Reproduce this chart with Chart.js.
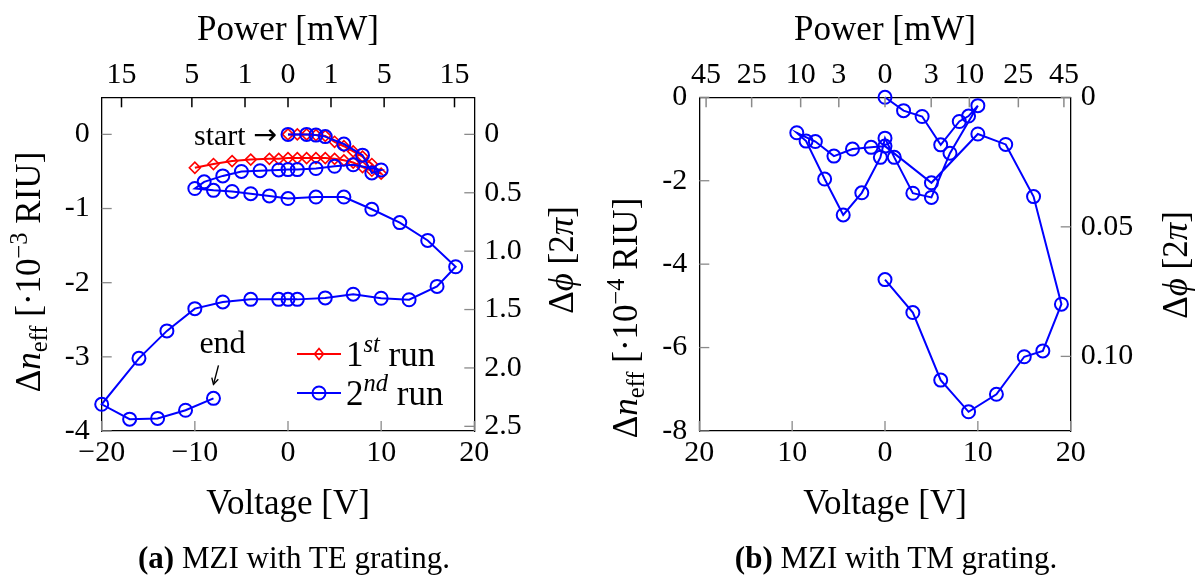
<!DOCTYPE html>
<html>
<head>
<meta charset="utf-8">
<script src="https://cdn.jsdelivr.net/npm/chart.js@4/dist/chart.umd.min.js"></script>
<style>
  html, body { margin: 0; padding: 0; background: #fff; }
  #wrap { position: relative; width: 1196px; height: 581px; overflow: hidden; }
  canvas { position: absolute; top: 0; }
  #teChart { left: 0; }
  #tmChart { left: 598px; }
  .cap { position: absolute; top: 540px; line-height: 36px; font-family: 'Liberation Serif', serif;
         font-size: 31px; color: #000; white-space: nowrap; transform: translateX(-50%); }
</style>
</head>
<body>
<div id="wrap">
  <canvas id="teChart" width="598" height="581"></canvas>
  <canvas id="tmChart" width="598" height="581"></canvas>
  <div class="cap" style="left:294px"><b>(a)</b> MZI with TE grating.</div>
  <div class="cap" style="left:896px"><b>(b)</b> MZI with TM grating.</div>
</div>
<script>
// ---------- (a) MZI with TE grating ----------
// 1st sweep: 0 V -> +10 V -> -10 V
const teVoltRun1 = [0, 1, 2, 3, 4, 5, 6, 7, 8, 9, 10, 9, 8, 7, 6, 5, 4, 3, 2, 1, 0, -1, -2, -4, -6, -8, -10];
const teDnRun1 = [0, 0, 0, -0.01, -0.02, -0.1, -0.16, -0.23, -0.3, -0.4, -0.53,
                  -0.49, -0.44, -0.38, -0.35, -0.33, -0.32, -0.32, -0.32, -0.32, -0.32,
                  -0.33, -0.33, -0.34, -0.36, -0.4, -0.45];
// 2nd sweep: 0 V -> +10 V -> -10 V -> +18 V -> -20 V -> -8 V
const teVoltRun2 = [0, 2, 3, 4, 6, 8, 9, 10, 7, 5, 3, 1, 0, -1, -3, -5, -7, -9, -10,
                    -8, -6, -4, -2, 0, 3, 6, 9, 12, 15, 18, 16, 13, 10, 7, 4, 1, 0, -1, -4, -7, -10,
                    -13, -16, -20, -17, -14, -11, -8];
const teDnRun2 = [0, 0, -0.01, -0.03, -0.13, -0.28, -0.52, -0.48, -0.41, -0.43, -0.46, -0.475, -0.475,
                  -0.48, -0.49, -0.5, -0.56, -0.64, -0.73,
                  -0.755, -0.77, -0.8, -0.83, -0.865, -0.845, -0.845, -1.01, -1.19, -1.43, -1.785,
                  -2.05, -2.23, -2.21, -2.155, -2.205, -2.225, -2.225, -2.225, -2.225, -2.26, -2.35,
                  -2.65, -3.02, -3.64, -3.84, -3.83, -3.72, -3.56];
const teVoltTicks = [-20, -10, 0, 10, 20];
const teDnTicks = [0, -1, -2, -3, -4];
const tePhaseTicks = [0, 0.5, 1.0, 1.5, 2.0, 2.5];
const tePowerTicks = [-15, -5, -1, 0, 1, 5, 15];   // sign = heater polarity
const teHeaterKOhm = 21.3;                          // P[mW] = V^2 / R[kOhm]
const tePhasePerDn = 0.635;                         // Δφ [2π] per 10^-3 RIU

// ---------- (b) MZI with TM grating ----------
const tmVolt = [0, 2, 4, 6, 8, 9, 10, 7, 5, 3, 1, 0,
                -0.5, -2.5, -4.5, -6.5, -8.5, -9.5, -7.5, -5.5, -3.5, -1.5, 0,
                5, 10, 13, 16, 19, 17, 15, 12, 9, 6, 3, 0];
const tmDn = [0, -0.32, -0.46, -1.14, -0.58, -0.45, -0.2, -1.34, -2.4, -2.3, -1.44, -0.98,
              -1.44, -2.29, -2.82, -1.96, -1.05, -0.85, -1.06, -1.41, -1.24, -1.2, -1.17,
              -2.05, -0.88, -1.13, -2.38, -4.96, -6.08, -6.22, -7.12, -7.54, -6.78, -5.16, -4.37];
const tmVoltTicks = [-20, -10, 0, 10, 20];
const tmDnTicks = [0, -2, -4, -6, -8];
const tmPhaseTicks = [0, 0.05, 0.10];
const tmPowerTicks = [-45, -25, -10, -3, 0, 3, 10, 25, 45];
const tmHeaterKOhm = 8.25;
const tmPhasePerDn = 0.0161;                        // Δφ [2π] per 10^-4 RIU

const SERIF = "'Liberation Serif', 'DejaVu Serif', serif";
const SANS = "'DejaVu Sans', sans-serif";
const BLUE = '#0000ff';
const RED = '#ff0000';
const W = 598, H = 581;

function pts(xs, ys) { return xs.map((x, i) => ({ x: x, y: ys[i] })); }
function fontStr(size, italic, family) { return (italic ? 'italic ' : '') + size + 'px ' + (family || SERIF); }

// text made of runs with their own size / italics / baseline shift
function drawRich(ctx, parts, x, y, opt) {
  const base = opt.size;
  ctx.save();
  ctx.translate(x, y);
  ctx.rotate(opt.rotate || 0);
  ctx.fillStyle = '#000';
  ctx.textBaseline = 'alphabetic';
  ctx.textAlign = 'left';
  let total = 0;
  const items = parts.map(p => {
    const font = fontStr((p.s || 1) * base, p.i, p.f);
    ctx.font = font;
    const w = ctx.measureText(p.t).width;
    total += w;
    return { t: p.t, font: font, w: w, dy: (p.dy || 0) * base };
  });
  const align = opt.align || 'center';
  let cx = align === 'center' ? -total / 2 : (align === 'right' ? -total : 0);
  const by = 0.34 * base;
  items.forEach(it => { ctx.font = it.font; ctx.fillText(it.t, cx, by + it.dy); cx += it.w; });
  ctx.restore();
}

function drawMarker(ctx, style, x, y, color) {
  ctx.save();
  ctx.strokeStyle = color;
  ctx.beginPath();
  if (style === 'circle') {
    ctx.lineWidth = 2;
    ctx.arc(x, y, 6.5, 0, 2 * Math.PI);
  } else {
    ctx.lineWidth = 1.6;
    ctx.moveTo(x, y - 5.5); ctx.lineTo(x + 4.5, y); ctx.lineTo(x, y + 5.5); ctx.lineTo(x - 4.5, y);
    ctx.closePath();
  }
  ctx.stroke();
  ctx.restore();
}

// tick marks pointing into the plot box
function innerTicks(topColor) {
  return {
    id: 'innerTicks',
    afterDatasetsDraw(chart) {
      const ctx = chart.ctx, ca = chart.chartArea, L = 10;
      ctx.save();
      ['x', 'x2', 'y', 'y2'].forEach(id => {
        const s = chart.scales[id];
        ctx.strokeStyle = id === 'x2' ? topColor : '#8a8a8a';
        ctx.lineWidth = id === 'x2' ? 1.5 : 1.3;
        s.ticks.forEach(t => {
          const p = s.getPixelForValue(t.value);
          ctx.beginPath();
          if (id === 'x') { ctx.moveTo(p, ca.bottom); ctx.lineTo(p, ca.bottom - L); }
          if (id === 'x2') { ctx.moveTo(p, ca.top); ctx.lineTo(p, ca.top + L); }
          if (id === 'y') { ctx.moveTo(ca.left, p); ctx.lineTo(ca.left + L, p); }
          if (id === 'y2') { ctx.moveTo(ca.right, p); ctx.lineTo(ca.right - L, p); }
          ctx.stroke();
        });
      });
      ctx.restore();
    }
  };
}

function titles(p) {
  return {
    id: 'titles',
    afterDraw(chart) {
      const ctx = chart.ctx, ca = chart.chartArea, T = 35;
      const cx = (ca.left + ca.right) / 2;
      drawRich(ctx, [{ t: 'Power [mW]' }], cx, 28, { size: T });
      drawRich(ctx, [{ t: 'Voltage [V]' }], cx, 502, { size: T });
      drawRich(ctx, [{ t: 'Δ' }, { t: 'n', i: 1 }, { t: 'eff', s: 0.7, dy: 0.2 }, { t: ' [·10' },
                     { t: '−' + p.exp, s: 0.7, dy: -0.38 }, { t: ' RIU]' }],
               p.leftTitleX, p.leftTitleY, { size: T, rotate: -Math.PI / 2 });
      drawRich(ctx, [{ t: 'Δ' }, { t: 'ϕ', i: 1 }, { t: ' [2' }, { t: 'π', i: 1 }, { t: ']' }],
               p.rightTitleX, p.rightTitleY, { size: T, rotate: -Math.PI / 2 });
      if (p.extras) p.extras(chart, ctx);
    }
  };
}

function setTicks(values) { return s => { s.ticks = values.map(v => ({ value: v })); }; }

function makePanel(canvasId, p) {
  const tickFont = { family: SERIF, size: 30 };
  const grid = { display: true, drawOnChartArea: false, drawTicks: false };
  const border = { display: true, color: '#000', width: 1.3 };
  const tickBase = { font: tickFont, color: '#000', autoSkip: false, maxRotation: 0, minRotation: 0 };
  return new Chart(document.getElementById(canvasId), {
    type: 'scatter',
    data: { datasets: p.datasets },
    options: {
      responsive: false, animation: false, devicePixelRatio: 1,
      layout: { padding: 0 },
      plugins: { legend: { display: false }, tooltip: { enabled: false } },
      scales: {
        x: {
          type: 'linear', position: 'bottom', min: -20, max: 20, grid: grid, border: border,
          afterBuildTicks: setTicks(p.voltTicks),
          afterFit: s => { s.height = H - p.bottom; },
          ticks: Object.assign({}, tickBase, { padding: 4, callback: p.voltLabel })
        },
        x2: {
          type: 'linear', position: 'top', min: -20, max: 20, grid: grid, border: border,
          afterBuildTicks: s => {
            s.ticks = p.powerTicks.map(pw => ({ value: Math.sign(pw) * Math.sqrt(Math.abs(pw) * p.heater) }));
          },
          afterFit: s => { s.height = p.top; },
          ticks: Object.assign({}, tickBase, { padding: 4, callback: (v, i) => String(Math.abs(p.powerTicks[i])) })
        },
        y: {
          type: 'linear', position: 'left', min: p.yMin, max: p.yMax, grid: grid, border: border,
          afterBuildTicks: setTicks(p.dnTicks),
          afterFit: s => { s.width = p.left; },
          ticks: Object.assign({}, tickBase, { padding: 12, callback: v => String(v) })
        },
        y2: {
          type: 'linear', position: 'right', reverse: true,
          min: -p.yMax * p.phasePerDn, max: -p.yMin * p.phasePerDn, grid: grid, border: border,
          afterBuildTicks: setTicks(p.phaseTicks),
          afterFit: s => { s.width = W - p.right; },
          ticks: Object.assign({}, tickBase, { padding: 10, callback: v => v === 0 ? '0' : v.toFixed(p.phaseDigits) })
        }
      }
    },
    plugins: [innerTicks(p.topTickColor), titles(p)]
  });
}

const circleSeries = (data) => ({
  data: data, showLine: true, borderColor: BLUE, borderWidth: 2, tension: 0,
  pointStyle: 'circle', pointRadius: 6.5, pointBorderWidth: 2, pointBorderColor: BLUE,
  pointBackgroundColor: 'rgba(0,0,0,0)', clip: false, order: 0
});

// ---------- panel (a) ----------
makePanel('teChart', {
  datasets: [
    circleSeries(pts(teVoltRun2, teDnRun2)),
    {
      data: pts(teVoltRun1, teDnRun1), showLine: true, borderColor: RED, borderWidth: 2, tension: 0,
      pointStyle: 'rectRot', pointRadius: 5.5, pointBorderWidth: 1.6, pointBorderColor: RED,
      pointBackgroundColor: 'rgba(0,0,0,0)', clip: false, order: 1
    }
  ],
  left: 101.7, right: 474.3, top: 97.3, bottom: 431,
  yMin: -4, yMax: 0.5, phasePerDn: tePhasePerDn, phaseDigits: 1,
  voltTicks: teVoltTicks, dnTicks: teDnTicks, phaseTicks: tePhaseTicks,
  powerTicks: tePowerTicks, heater: teHeaterKOhm,
  voltLabel: v => (v < 0 ? '\u2212' + Math.abs(v) : String(v)),
  topTickColor: '#000',
  exp: '3', leftTitleX: 28, leftTitleY: 272, rightTitleX: 561, rightTitleY: 260,
  extras: (chart, ctx) => {
    const sx = chart.scales.x, sy = chart.scales.y;
    // start / end markers of the 2nd sweep
    const x0 = sx.getPixelForValue(teVoltRun2[0]), y0 = sy.getPixelForValue(teDnRun2[0]);
    drawRich(ctx, [{ t: 'start ' }, { t: '→', f: SANS, s: 0.95, dy: -0.02 }], x0 - 11, y0, { size: 30, align: 'right' });
    const n = teVoltRun2.length - 1;
    const xe = sx.getPixelForValue(teVoltRun2[n]), ye = sy.getPixelForValue(teDnRun2[n]);
    drawRich(ctx, [{ t: 'end' }], xe + 9, ye - 56, { size: 32 });
    ctx.save();
    ctx.strokeStyle = '#000'; ctx.fillStyle = '#000'; ctx.lineWidth = 1.4;
    const ax0 = xe + 5, ay0 = ye - 33, ax1 = xe, ay1 = ye - 14;
    ctx.beginPath(); ctx.moveTo(ax0, ay0); ctx.lineTo(ax1, ay1); ctx.stroke();
    const ang = Math.atan2(ay1 - ay0, ax1 - ax0);
    ctx.beginPath();
    ctx.moveTo(ax1 - 7 * Math.cos(ang - 0.5), ay1 - 7 * Math.sin(ang - 0.5));
    ctx.lineTo(ax1, ay1);
    ctx.lineTo(ax1 - 7 * Math.cos(ang + 0.5), ay1 - 7 * Math.sin(ang + 0.5));
    ctx.stroke();
    ctx.restore();
    // legend
    const rows = [
      { y: 354, color: RED, style: 'diamond', parts: [{ t: '1' }, { t: 'st', s: 0.7, i: 1, dy: -0.4 }, { t: ' run' }] },
      { y: 393, color: BLUE, style: 'circle', parts: [{ t: '2' }, { t: 'nd', s: 0.7, i: 1, dy: -0.4 }, { t: ' run' }] }
    ];
    rows.forEach(r => {
      ctx.save();
      ctx.strokeStyle = r.color; ctx.lineWidth = 2;
      ctx.beginPath(); ctx.moveTo(297, r.y); ctx.lineTo(341, r.y); ctx.stroke();
      ctx.restore();
      drawMarker(ctx, r.style, 319, r.y, r.color);
      drawRich(ctx, r.parts, 346, r.y, { size: 35, align: 'left' });
    });
  }
});

// ---------- panel (b) ----------
makePanel('tmChart', {
  datasets: [circleSeries(pts(tmVolt, tmDn))],
  left: 101.3, right: 472.7, top: 97.3, bottom: 431,
  yMin: -8, yMax: 0, phasePerDn: tmPhasePerDn, phaseDigits: 2,
  voltTicks: tmVoltTicks, dnTicks: tmDnTicks, phaseTicks: tmPhaseTicks,
  powerTicks: tmPowerTicks, heater: tmHeaterKOhm,
  voltLabel: v => String(Math.abs(v)),
  topTickColor: '#8a8a8a',
  exp: '4', leftTitleX: 27, leftTitleY: 318, rightTitleX: 577, rightTitleY: 265
});
</script>
</body>
</html>
